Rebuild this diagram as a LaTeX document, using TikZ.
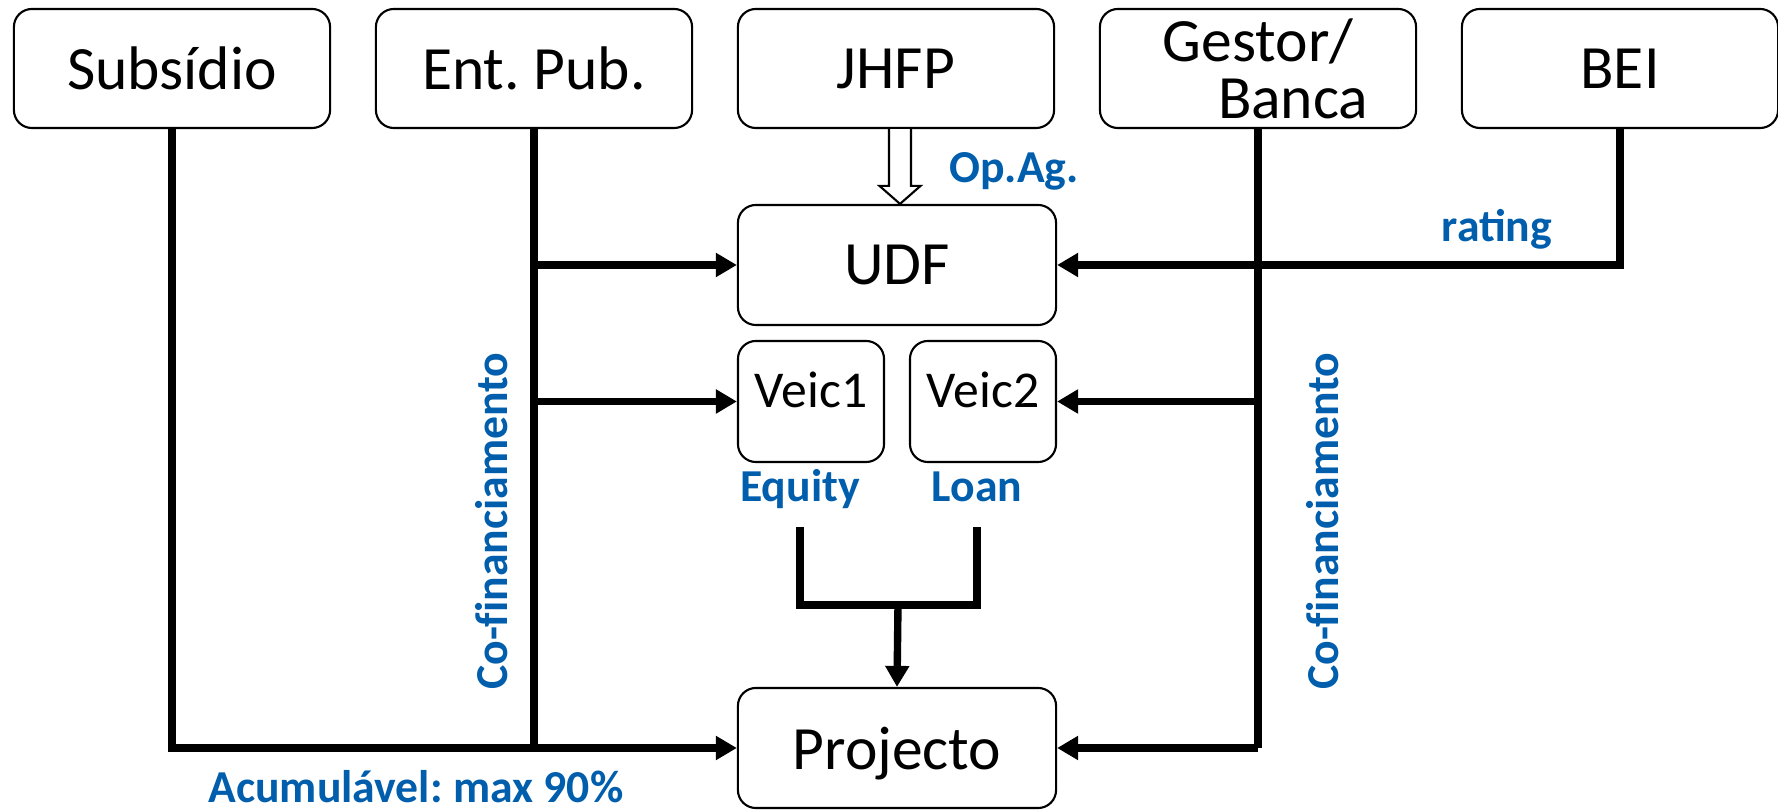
\documentclass[tikz,border=0pt]{standalone}
\usepackage{fontspec}
\setmainfont{Carlito}
\usepackage{xcolor}
\usetikzlibrary{arrows.meta,calc}
\definecolor{tagblue}{RGB}{0,94,172}
\frenchspacing

\begin{document}
\begin{tikzpicture}[x=0.01cm,y=-0.01cm,
    entity/.style={draw,rounded corners=0.18cm,line width=0.6pt,minimum width=3.16cm,minimum height=1.19cm,inner sep=0pt,align=center,font=\fontsize{17.5}{16.2}\selectfont},
    vehicle/.style={entity,minimum width=1.46cm,minimum height=1.21cm,font=\fontsize{14.7}{16}\selectfont,text depth=6.5pt},
    tag/.style={text=tagblue,inner sep=0pt,font=\bfseries\fontsize{13}{15}\selectfont},
    link/.style={line width=2.1pt},
    flow/.style={link,-{Triangle[length=0.21cm,width=0.23cm]}}]
            \useasboundingbox (0,0) rectangle (1778,810);

            % sources
            \node (subsidio) at (172,68.5) [entity] {Subsídio};
            \node (entpub) at (534,68.5) [entity] {Ent. Pub.};
            \node (jhfp) at (896,68.5) [entity] {JHFP};
            \node (gestor) at (1258,68.5) [entity] {Gestor/\\\hspace*{20pt}Banca};
            \node (bei) at (1620,68.5) [entity] {BEI};

            % middle
            \node (udf) at (897,265) [entity,minimum width=3.18cm,minimum height=1.2cm] {UDF};
            \node (veicA) at (811,401.5) [vehicle] {Veic1};
            \node (veicB) at (983,401.5) [vehicle] {Veic2};
            \node (projecto) at (897,748) [entity,minimum width=3.18cm,minimum height=1.2cm,text depth=0pt] {Projecto};

            % labels
            \node (opag) at (1014,183) [tag,anchor=base] {Op.Ag.};
            \node (rating) at (1497,242) [tag,anchor=base] {rating};
            \node (equity) at (800,502) [tag,anchor=base,text depth=0.25em,inner ysep=4.3pt] {Equity};
            \node (loan) at (977,502) [tag,anchor=base,text depth=0.25em,inner ysep=4.3pt] {Loan};
            \node (cofinA) at (507,521) [tag,anchor=base,rotate=90] {Co-f\kern0pt inanciamento};
            \node (cofinB) at (1338,521) [tag,anchor=base,rotate=90] {Co-f\kern0pt inanciamento};
            \node (acum) at (416,803) [tag,anchor=base] {Acumulável: max 90\%};

            \coordinate (join) at (898,605);

            \draw[flow] (subsidio.south) |- (projecto.west);
            \draw[link] (entpub.south) -- (entpub.south |- projecto.west);
            \draw[flow] (entpub.south |- udf.west) -- (udf.west);
            \draw[flow] (entpub.south |- veicA.west) -- (veicA.west);

            \draw[link] (gestor.south) -- (gestor.south |- projecto.east);
            \draw[flow] (gestor.south |- veicB.east) -- (veicB.east);
            \draw[flow] (gestor.south |- projecto.east) -- (projecto.east);
            \draw[flow] (bei.south) |- (udf.east);

            \draw[link] (equity.south) |- (join) -| (loan.south);
            \draw[flow] (join) -- (projecto.north);

            \draw[line width=0.6pt,fill=white] ($(jhfp.south)+(-7,0)$) -- ($(udf.north)+(-8,-18)$) -- ($(udf.north)+(-17.5,-18)$)
                -- ($(udf.north)+(3,0)$) -- ($(udf.north)+(23.5,-18)$) -- ($(udf.north)+(14,-18)$) -- ($(jhfp.south)+(15,0)$);

        \end{tikzpicture}
\end{document}
